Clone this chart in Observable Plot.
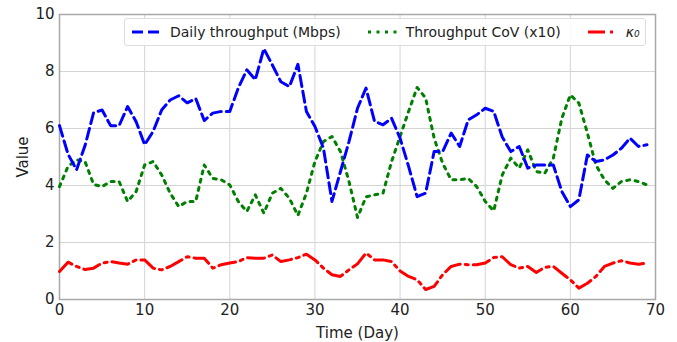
<!DOCTYPE html>
<html><head><meta charset="utf-8">
<script src="https://cdn.jsdelivr.net/npm/d3@7"></script>
<script src="https://cdn.jsdelivr.net/npm/@observablehq/plot@0.6"></script>
<style>
html,body{margin:0;padding:0;background:#fff;}
#wrap{position:relative;width:677px;height:342px;font-family:"DejaVu Sans",sans-serif;}
#legend{position:absolute;left:124px;top:18px;width:522px;height:28px;border:1px solid #ddd;border-radius:3px;background:rgba(255,255,255,0.85);display:flex;align-items:center;font-size:14px;color:#222;box-sizing:border-box;}
#legend .it{display:flex;align-items:center;}
#legend svg{margin:0 9px 0 6px;}
#legend .k{font-style:italic;}
</style></head><body>
<div id="wrap"></div>
<script>
const days = d3.range(0, 70);
const throughput = [6.1,5.1,4.55,5.4,6.55,6.65,6.1,6.1,6.77,6.24,5.43,5.9,6.65,7.0,7.15,6.9,7.05,6.28,6.54,6.6,6.6,7.42,8.06,7.71,8.8,8.23,7.64,7.47,8.25,6.6,6.07,5.31,3.44,4.49,5.54,6.71,7.42,6.25,6.13,6.36,5.66,4.67,3.61,3.73,5.19,5.19,5.84,5.37,6.3,6.48,6.71,6.6,5.7,5.19,5.37,4.61,4.72,4.72,4.72,3.79,3.26,3.5,5.07,4.84,4.9,5.07,5.31,5.66,5.37,5.43];
const cov = [3.96,4.67,4.9,4.84,4.04,3.96,4.14,4.14,3.44,3.79,4.72,4.84,4.37,3.73,3.26,3.44,3.44,4.72,4.25,4.2,4.02,3.44,3.09,3.67,3.03,3.73,3.9,3.55,2.95,3.73,4.84,5.54,5.72,5.19,4.14,2.88,3.6,3.67,3.73,4.84,5.72,6.6,7.44,7.07,5.66,4.78,4.2,4.2,4.25,3.96,3.44,3.11,4.37,4.96,4.61,5.25,4.49,4.43,4.96,6.36,7.18,6.89,5.84,4.72,4.2,3.9,4.14,4.2,4.14,4.02];
const kappa = [0.98,1.31,1.16,1.05,1.1,1.28,1.33,1.28,1.24,1.39,1.39,1.1,1.04,1.16,1.33,1.5,1.45,1.45,1.1,1.22,1.28,1.33,1.47,1.45,1.45,1.56,1.33,1.39,1.47,1.59,1.39,1.1,0.87,0.81,1.04,1.25,1.63,1.39,1.39,1.33,1.0,0.81,0.69,0.35,0.46,0.87,1.16,1.24,1.22,1.22,1.28,1.47,1.5,1.22,1.1,1.16,0.95,1.13,1.16,0.92,0.69,0.4,0.57,0.81,1.16,1.28,1.36,1.28,1.24,1.28];
const seriesNames = ["Daily throughput (Mbps)", "Throughput CoV (x10)", "κ₀"];
const xTicks = [0,10,20,30,40,50,60,70];
const yTicks = [0,2,4,6,8,10];

const rows = (vals) => days.map((d,i)=>({day:d, v:vals[i]}));
const lw = 3;
const chart = Plot.plot({
  width: 677, height: 342,
  marginLeft: 59, marginRight: 22, marginTop: 14, marginBottom: 43,
  style: {fontFamily: "DejaVu Sans, sans-serif", fontSize: "16px", color: "#222", background: "#fff"},
  x: {domain: [0,70], ticks: xTicks, label: "Time (Day)", labelAnchor: "center", labelArrow: "none", labelOffset: 38},
  y: {domain: [0,10], ticks: yTicks, label: "Value", labelAnchor: "center", labelArrow: "none", labelOffset: 42},
  marks: [
    Plot.gridX(xTicks, {stroke: "#d4d4d4", strokeOpacity: 1, strokeWidth: 1}),
    Plot.gridY(yTicks, {stroke: "#d4d4d4", strokeOpacity: 1, strokeWidth: 1}),
    Plot.axisX(xTicks, {tickSize: 0, tickPadding: 5, fontSize: 15, label: "Time (Day)", labelAnchor: "center", labelArrow: "none", labelOffset: 38}),
    Plot.axisY(yTicks, {tickSize: 0, tickPadding: 5, fontSize: 15, label: "Value", labelAnchor: "center", labelArrow: "none", labelOffset: 42}),
    Plot.frame({stroke: "#a8a8a8", strokeWidth: 1.5}),
    Plot.lineY(rows(kappa), {x: "day", y: "v", stroke: "red", strokeWidth: lw, strokeDasharray: "17,5,3,5"}),
    Plot.lineY(rows(cov), {x: "day", y: "v", stroke: "#008000", strokeWidth: lw, strokeDasharray: "3,5.5"}),
    Plot.lineY(rows(throughput), {x: "day", y: "v", stroke: "blue", strokeWidth: lw, strokeDasharray: "11,5"})
  ]
});
const wrap = document.getElementById("wrap");
wrap.appendChild(chart);
const leg = document.createElement("div");
leg.id = "legend";
const samples = [
  {c:"blue", d:"11,5"},
  {c:"#008000", d:"3,5.5"},
  {c:"red", d:"17,5,3,5"}
];
seriesNames.forEach((n,i)=>{
  const it = document.createElement("div");
  it.className = "it";
  it.style.marginRight = i===2 ? "0" : "20px";
  it.innerHTML = `<svg width="30" height="10"><line x1="1" y1="5" x2="30" y2="5" stroke="${samples[i].c}" stroke-width="3" stroke-dasharray="${samples[i].d}"/></svg><span class="${i===2?'k':''}">${n}</span>`;
  leg.appendChild(it);
});
wrap.appendChild(leg);
</script>
</body></html>
